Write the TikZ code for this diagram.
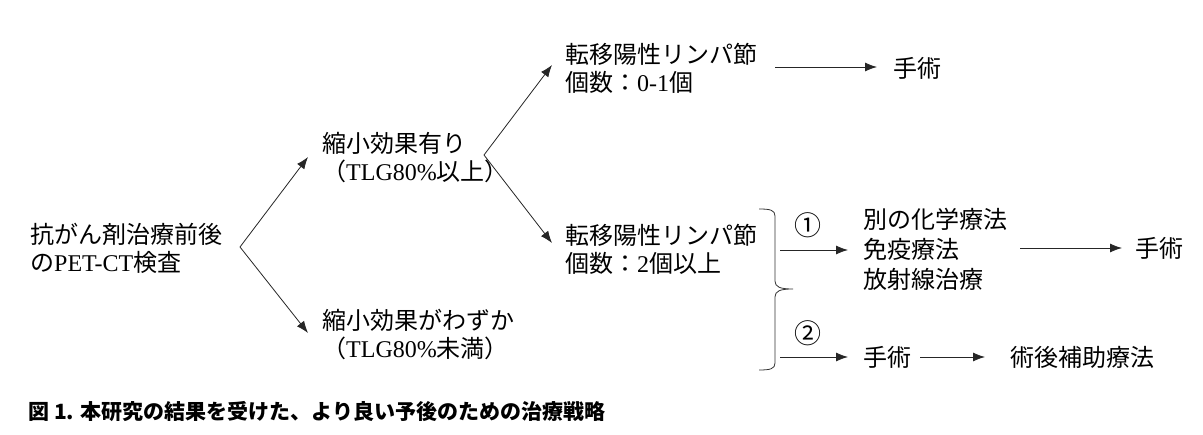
\documentclass[tikz,border=0pt]{standalone}
\usepackage{fontspec}
\setmainfont{Noto Sans CJK JP}
\newfontfamily\lat{Liberation Serif}
\usetikzlibrary{arrows.meta}
\tikzset{
  txt/.style={anchor=west, inner sep=0pt, align=left, font=\fontsize{24}{28}\selectfont},
  txtthree/.style={txt, font=\fontsize{24}{30}\selectfont},
  arr/.style={draw=black!85, line width=0.8pt, -{Latex[length=12pt,width=9pt]}},
  bracepath/.style={draw=black!80, line width=0.8pt},
  captxt/.style={anchor=west, inner sep=0pt, font=\fontsize{21}{24}\selectfont\bfseries},
  circnum/.style={inner sep=0pt, font=\fontsize{27}{28}\selectfont}
}
\begin{document}
\begin{tikzpicture}[x=1pt,y=-1pt]
\useasboundingbox (0,0) rectangle (1203,435);
\fill[white] (0,0) rectangle (1203,435);

% nodes
\node[txt] (root) at (30,248) {抗がん剤治療前後\\の{\lat PET-CT}検査};
\node[txt] (yes) at (322,158) {縮小効果有り\\（{\lat TLG80\%}以上）};
\node[txt] (no) at (322,335) {縮小効果がわずか\\（{\lat TLG80\%}未満）};
\node[txt] (n01) at (565,68) {転移陽性リンパ節\\個数：{\lat 0-1}個};
\node[txt] (n2) at (565,249) {転移陽性リンパ節\\個数：{\lat 2}個以上};
\node[txt] (surg1) at (893,68) {手術};
\node[txtthree] (alt) at (863,249) {別の化学療法\\免疫療法\\放射線治療};
\node[txt] (surg2) at (1135,248) {手術};
\node[txt] (surg3) at (863,357) {手術};
\node[txt] (adj) at (1010,357) {術後補助療法};
\node[circnum] (c1) at (808,225) {①};
\node[circnum] (c2) at (808,333) {②};
\node[captxt] (caption) at (28,412) {図 1. 本研究の結果を受けた、より良い予後のための治療戦略};

% branch coordinates
\coordinate (v1) at (240,247);
\coordinate (t1a) at (308,157);
\coordinate (t1b) at (308,333);
\coordinate (v2) at (484,155);
\coordinate (t2a) at (552,65);
\coordinate (t2b) at (552,243);

\draw[arr] (v1) -- (t1a);
\draw[arr] (v1) -- (t1b);
\draw[arr] (v2) -- (t2a);
\draw[arr] (v2) -- (t2b);

% right-hand arrows
\coordinate (a1s) at (775,67);
\coordinate (a1e) at (877,67);
\draw[arr] (a1s) -- (a1e);

\coordinate (b1s) at (780,250);
\coordinate (b1e) at (848,250);
\draw[arr] (b1s) -- (b1e);
\coordinate (b2s) at (780,357);
\coordinate (b2e) at (848,357);
\draw[arr] (b2s) -- (b2e);

\coordinate (a2s) at (1020,248);
\coordinate (a2e) at (1122,248);
\draw[arr] (a2s) -- (a2e);

\coordinate (a3s) at (920,357);
\coordinate (a3e) at (985,357);
\draw[arr] (a3s) -- (a3e);

% brace
\draw[bracepath] (759,209) .. controls (770,209) and (775,210) .. (775,216)
  -- (775,281) .. controls (775,287) and (780,289) .. (793,289)
  .. controls (780,289) and (775,291) .. (775,297)
  -- (775,363) .. controls (775,369) and (770,370) .. (759,370);
\end{tikzpicture}
\end{document}
